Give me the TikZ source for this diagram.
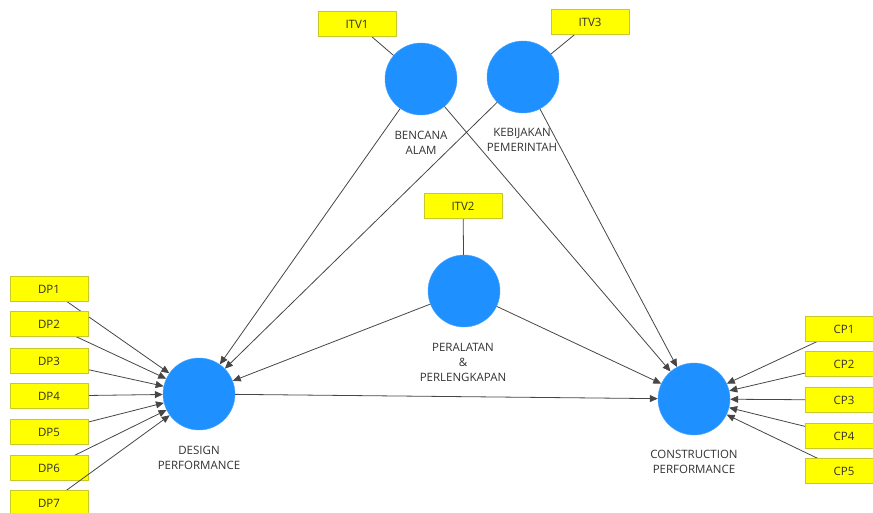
\documentclass[tikz,border=0pt]{standalone}
\usepackage{fontspec}
\setmainfont{Open Sans}
\usetikzlibrary{arrows.meta}
\definecolor{latentblue}{RGB}{30,144,255}
\definecolor{itemyellow}{RGB}{255,255,0}
\definecolor{itemedge}{RGB}{200,200,40}
\definecolor{pathgray}{RGB}{70,70,70}
\definecolor{labelgray}{RGB}{50,50,50}
\tikzset{
  latent/.style={circle,fill=latentblue,draw=latentblue!80!white,minimum size=72pt,inner sep=0pt},
  item/.style={rectangle,fill=itemyellow,draw=itemedge,minimum width=78pt,minimum height=25pt,inner sep=0pt,font=\fontsize{11.5}{13}\selectfont,text=labelgray},
  lvname/.style={align=center,font=\fontsize{11.5}{15}\selectfont,text=labelgray},
  path/.style={draw=pathgray,line width=0.8pt,-{Triangle[length=8pt,width=7pt]}},
  loading/.style={draw=pathgray,line width=0.8pt},
}
\begin{document}
\begin{tikzpicture}[x=1pt,y=-1pt]
\useasboundingbox (0,0) rectangle (873,513);

% Latent variables
\node[latent] (bencana) at (421,79) {};
\node[latent] (kebijakan) at (523,77) {};
\node[latent] (peralatan) at (464,291) {};
\node[latent] (design) at (199,394) {};
\node[latent] (construction) at (694,399) {};

% Names of the latent variables
\node[lvname] (bencananame) at (421,143) {BENCANA\\ALAM};
\node[lvname] (kebijakanname) at (522,140) {KEBIJAKAN\\PEMERINTAH};
\node[lvname] (peralatanname) at (463,362) {PERALATAN\\\&\\PERLENGKAPAN};
\node[lvname] (designname) at (199,458) {DESIGN\\PERFORMANCE};
\node[lvname] (constructionname) at (694,462) {CONSTRUCTION\\PERFORMANCE};

% Structural paths
\draw[path] (bencana) -- (design);
\draw[path] (kebijakan) -- (design);
\draw[path] (peralatan) -- (design);
\draw[path] (bencana) -- (construction);
\draw[path] (kebijakan) -- (construction);
\draw[path] (peralatan) -- (construction);
\draw[path] (design) -- (construction);

% Single items of the moderators
\draw[loading] (357,24) -- (bencana);
\draw[loading] (590,22) -- (kebijakan);
\draw[loading] (463,206) -- (peralatan);
\node[item] (itv1) at (357,24) {ITV1};
\node[item] (itv3) at (590,22) {ITV3};
\node[item] (itv2) at (463,206) {ITV2};

% Design performance items
\foreach \i/\y in {1/289,2/324,3/361,4/396,5/432,6/468,7/503}{
  \draw[path] (49,\y) -- (design);
  \node[item] (dp\i) at (49,\y) {DP\i};
}

% Construction performance items
\foreach \i/\y in {1/329,2/364,3/400,4/436,5/471}{
  \draw[path] (844,\y) -- (construction);
  \node[item] (cp\i) at (844,\y) {CP\i};
}

\end{tikzpicture}
\end{document}
